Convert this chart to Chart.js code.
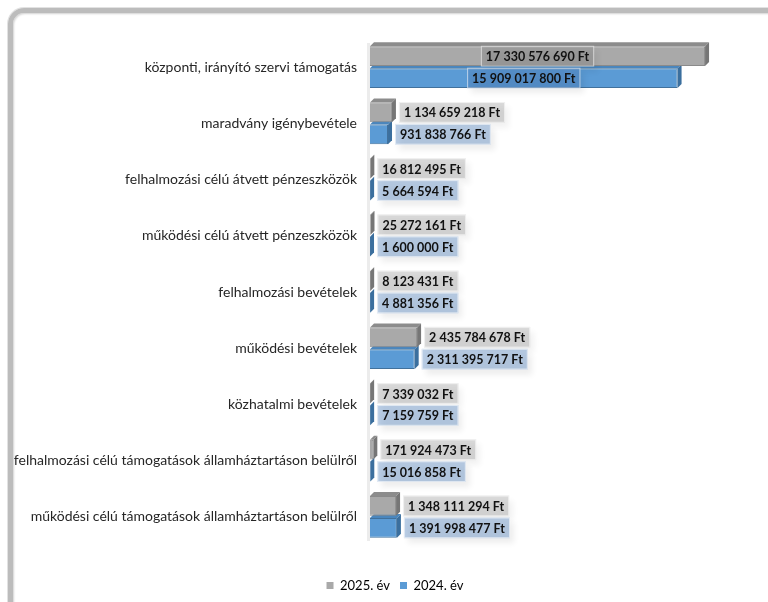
<!DOCTYPE html>
<html lang="hu">
<head>
  <meta charset="UTF-8">
  <title>Bevételek 2025 / 2024</title>
  <script src="https://cdn.jsdelivr.net/npm/chart.js"></script>
  <style>
    html, body {
      margin: 0;
      padding: 0;
      background: #fff;
      overflow: hidden;
    }
    .frame {
      position: absolute;
      left: 8px;
      top: 8px;
      width: 900px;
      height: 900px;
      box-sizing: border-box;
      border: 5px solid #bcbcbc;
      border-radius: 16px;
      box-shadow: inset 1px 1px 2px rgba(0,0,0,0.18), 0 0 0 1px #e2e2e2;
    }
    .wrap {
      position: absolute;
      left: 0;
      top: 0;
      width: 768px;
      height: 602px;
    }
  </style>
</head>
<body>
  <div class="frame"></div>
  <div class="wrap"><canvas id="chart" width="768" height="602"></canvas></div>

  <script>
    const categories = [
      'központi, irányító szervi támogatás',
      'maradvány igénybevétele',
      'felhalmozási célú átvett pénzeszközök',
      'működési célú átvett pénzeszközök',
      'felhalmozási bevételek',
      'működési bevételek',
      'közhatalmi bevételek',
      'felhalmozási célú támogatások államháztartáson belülről',
      'működési célú támogatások államháztartáson belülről'
    ];
    const seriesNames = ['2025. év', '2024. év'];
    const values2025 = [17330576690, 1134659218, 16812495, 25272161, 8123431, 2435784678, 7339032, 171924473, 1348111294];
    const values2024 = [15909017800, 931838766, 5664594, 1600000, 4881356, 2311395717, 7159759, 15016858, 1391998477];

    const DEPTH = 4;
    const fmt = v => String(v).replace(/\B(?=(\d{3})+(?!\d))/g, ' ') + ' Ft';

    // colours per series: front, top face, side face, label box
    const looks = [
      { front: '#a9a9a9', border: '#8a8a8a', top: '#8c8c8c', side: '#767676', box: 'rgba(128,128,128,0.3)' },
      { front: '#5b9bd5', border: '#41719c', top: '#4a86bd', side: '#3b6f9e', box: 'rgba(79,129,189,0.4)' }
    ];

    // fake 3D boxes behind each bar
    const depthPlugin = {
      id: 'depth',
      afterLayout(chart) {
        // legend in the reference sits a bit right of centre
        if (chart.legend) { chart.legend.left += 36; chart.legend.right += 36; }
      },
      beforeDatasetsDraw(chart) {
        const ctx = chart.ctx;
        const area = chart.chartArea;
        // back wall next to the axis
        ctx.save();
        ctx.fillStyle = '#ececec';
        ctx.fillRect(area.left - 3, area.top + 4, 3, area.bottom - area.top - 8);
        for (let i = chart.data.datasets.length - 1; i >= 0; i--) {
          const meta = chart.getDatasetMeta(i);
          const look = looks[i];
          meta.data.forEach(bar => {
            const p = bar.getProps(['x', 'y', 'base', 'height'], true);
            const l = p.base, r = Math.max(p.x, p.base), t = p.y - p.height / 2, b = p.y + p.height / 2;
            ctx.fillStyle = look.top;
            ctx.beginPath();
            ctx.moveTo(l, t); ctx.lineTo(l + DEPTH, t - DEPTH); ctx.lineTo(r + DEPTH, t - DEPTH); ctx.lineTo(r, t);
            ctx.closePath(); ctx.fill();
            ctx.fillStyle = look.side;
            ctx.beginPath();
            ctx.moveTo(r, t); ctx.lineTo(r + DEPTH, t - DEPTH); ctx.lineTo(r + DEPTH, b - DEPTH); ctx.lineTo(r, b);
            ctx.closePath(); ctx.fill();
          });
        }
        ctx.restore();
      }
    };

    // value labels in little boxes
    const labelPlugin = {
      id: 'valueLabels',
      afterDatasetsDraw(chart) {
        const ctx = chart.ctx;
        ctx.save();
        ctx.font = 'bold 12.5px Lato';
        ctx.textBaseline = 'middle';
        chart.data.datasets.forEach((ds, i) => {
          const meta = chart.getDatasetMeta(i);
          meta.data.forEach((bar, j) => {
            const p = bar.getProps(['x', 'y', 'base', 'height'], true);
            const text = fmt(ds.data[j]);
            const w = ctx.measureText(text).width + 10;
            const h = p.height + 1;
            let bx = p.x + DEPTH + 3;
            if (bx + w > chart.width - 10) bx = (p.base + p.x) / 2 - w / 2;
            const by = p.y - h / 2;
            ctx.save();
            ctx.shadowColor = 'rgba(0,0,0,0.18)';
            ctx.shadowBlur = 6;
            ctx.shadowOffsetX = 4;
            ctx.shadowOffsetY = 5;
            ctx.fillStyle = looks[i].box;
            ctx.fillRect(bx, by, w, h);
            ctx.restore();
            ctx.strokeStyle = 'rgba(255,255,255,0.6)';
            ctx.lineWidth = 1;
            ctx.strokeRect(bx + 0.5, by + 0.5, w - 1, h - 1);
            ctx.fillStyle = '#111';
            ctx.fillText(text, bx + 5, p.y + 1);
          });
        });
        ctx.restore();
      }
    };

    new Chart(document.getElementById('chart'), {
      type: 'bar',
      data: {
        labels: categories,
        datasets: [
          { label: seriesNames[0], data: values2025, backgroundColor: looks[0].front, borderColor: looks[0].border, borderWidth: 1 },
          { label: seriesNames[1], data: values2024, backgroundColor: looks[1].front, borderColor: looks[1].border, borderWidth: 1 }
        ]
      },
      options: {
        indexAxis: 'y',
        responsive: false,
        animation: false,
        devicePixelRatio: 1,
        layout: { padding: { top: 39, right: 50, bottom: 0, left: 0 } },
        datasets: { bar: { categoryPercentage: 0.78, barPercentage: 0.9 } },
        scales: {
          x: {
            min: 0,
            max: 18000000000,
            grid: { display: false },
            border: { display: false },
            ticks: { display: false },
            afterFit: s => { s.height = 24; }
          },
          y: {
            grid: { display: false, drawTicks: false },
            border: { display: false },
            ticks: { color: '#262626', font: { family: 'Lato', size: 14 }, padding: 13 },
            afterFit: s => { s.width = 370; }
          }
        },
        plugins: {
          legend: {
            position: 'bottom',
            labels: {
              boxWidth: 7,
              boxHeight: 7,
              color: '#262626',
              font: { family: 'Lato', size: 13 },
              padding: 10,
              generateLabels: chart => chart.data.datasets.map((ds, i) => ({
                text: ds.label,
                fillStyle: looks[i].front,
                strokeStyle: looks[i].front,
                lineWidth: 0,
                datasetIndex: i
              }))
            }
          },
          tooltip: { enabled: false }
        }
      },
      plugins: [depthPlugin, labelPlugin]
    });
  </script>
</body>
</html>
